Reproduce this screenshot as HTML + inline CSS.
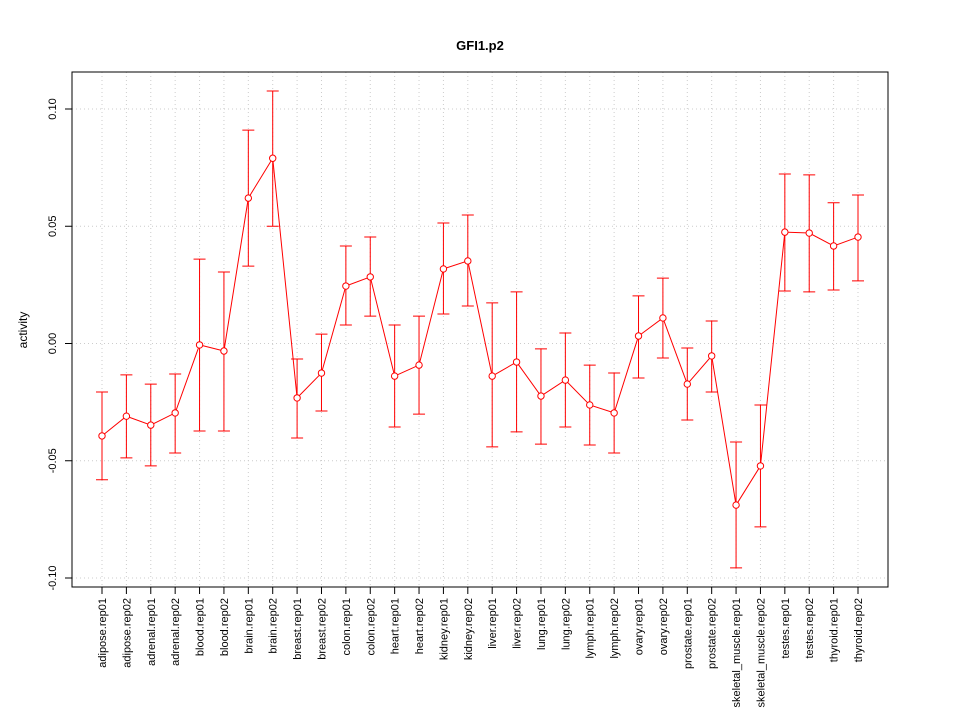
<!DOCTYPE html>
<html><head><meta charset="utf-8"><style>
body{margin:0;background:#fff}
svg{display:block;font-family:"Liberation Sans",sans-serif}
</style></head><body>
<svg id="chart" width="960" height="720" xmlns="http://www.w3.org/2000/svg">
<rect width="960" height="720" fill="#fff"/>
<text x="480" y="50" text-anchor="middle" font-size="13" font-weight="bold">GFI1.p2</text>
<text transform="translate(27,330) rotate(-90)" text-anchor="middle" font-size="12">activity</text>
<g id="grid"></g>
<g id="yaxis"></g>
<g id="xaxis"></g>
<g id="series"></g>
<rect x="72" y="72" width="816" height="515" fill="none" stroke="#000"/>
</svg>
<script>
const categories=["adipose.rep01","adipose.rep02","adrenal.rep01","adrenal.rep02","blood.rep01","blood.rep02","brain.rep01","brain.rep02","breast.rep01","breast.rep02","colon.rep01","colon.rep02","heart.rep01","heart.rep02","kidney.rep01","kidney.rep02","liver.rep01","liver.rep02","lung.rep01","lung.rep02","lymph.rep01","lymph.rep02","ovary.rep01","ovary.rep02","prostate.rep01","prostate.rep02","skeletal_muscle.rep01","skeletal_muscle.rep02","testes.rep01","testes.rep02","thyroid.rep01","thyroid.rep02"];
const values=[-0.0394,-0.031,-0.0348,-0.0296,-0.0006,-0.0032,0.062,0.079,-0.0232,-0.0126,0.0245,0.0284,-0.0139,-0.0092,0.0318,0.0352,-0.0139,-0.0079,-0.0224,-0.0156,-0.0262,-0.0296,0.0032,0.0109,-0.0173,-0.0053,-0.0689,-0.0522,0.0475,0.0471,0.0416,0.0454];
const upper=[-0.0207,-0.0134,-0.0173,-0.013,0.036,0.0305,0.091,0.1077,-0.0066,0.004,0.0416,0.0454,0.0079,0.0117,0.0514,0.0548,0.0173,0.022,-0.0023,0.0045,-0.0092,-0.0126,0.0203,0.0279,-0.0019,0.0096,-0.042,-0.0262,0.0723,0.0719,0.06,0.0633];
const lower=[-0.0581,-0.0488,-0.0522,-0.0467,-0.0373,-0.0373,0.033,0.050,-0.0403,-0.0288,0.0079,0.0117,-0.0356,-0.0301,0.0126,0.016,-0.0441,-0.0377,-0.0429,-0.0356,-0.0433,-0.0467,-0.0147,-0.0062,-0.0326,-0.0207,-0.0957,-0.0782,0.0224,0.022,0.0228,0.0267];
const yTicks=[-0.10,-0.05,0.00,0.05,0.10];
const yTickLabels=["-0.10","-0.05","0.00","0.05","0.10"];
const NS="http://www.w3.org/2000/svg";
const y=v=>343.5-v*2345;
const x=i=>102+i*(756/(categories.length-1));
function mk(tag,attrs,parent){const e=document.createElementNS(NS,tag);for(const k in attrs)e.setAttribute(k,attrs[k]);document.getElementById(parent).appendChild(e);return e;}
categories.forEach((c,i)=>{
  const g=mk("line",{x1:x(i),x2:x(i),y1:72,y2:587,stroke:"#ccc","stroke-dasharray":"1,3"},"grid");
  
  
  const t=mk("line",{x1:x(i),x2:x(i),y1:587,y2:594,stroke:"#000"},"xaxis");
  
  
  const l=mk("text",{transform:`translate(${x(i)+4},598) rotate(-90)`,"text-anchor":"end","font-size":"11"},"xaxis");
  l.textContent=c;
  
  
});
yTicks.forEach((v,i)=>{
  const g=mk("line",{x1:72,x2:888,y1:y(v),y2:y(v),stroke:"#ccc","stroke-dasharray":"1,3"},"grid");
  
  
  const t=mk("line",{x1:65,x2:72,y1:y(v),y2:y(v),stroke:"#000"},"yaxis");
  
  
  const l=mk("text",{transform:`translate(56,${y(v)}) rotate(-90)`,"text-anchor":"middle","font-size":"11"},"yaxis");
  l.textContent=yTickLabels[i];
  
  
});
const line=mk("polyline",{points:values.map((v,i)=>x(i)+","+y(v)).join(" "),fill:"none",stroke:"#f00"},"series");


values.forEach((v,i)=>{
  const e=mk("path",{d:`M${x(i)},${y(upper[i])}V${y(lower[i])}M${x(i)-6},${y(upper[i])}h12M${x(i)-6},${y(lower[i])}h12`,stroke:"#f00",fill:"none"},"series");
  
  
  const p=mk("circle",{cx:x(i),cy:y(v),r:3.2,fill:"#fff",stroke:"#f00"},"series");
  
  
});
</script>
</body></html>
